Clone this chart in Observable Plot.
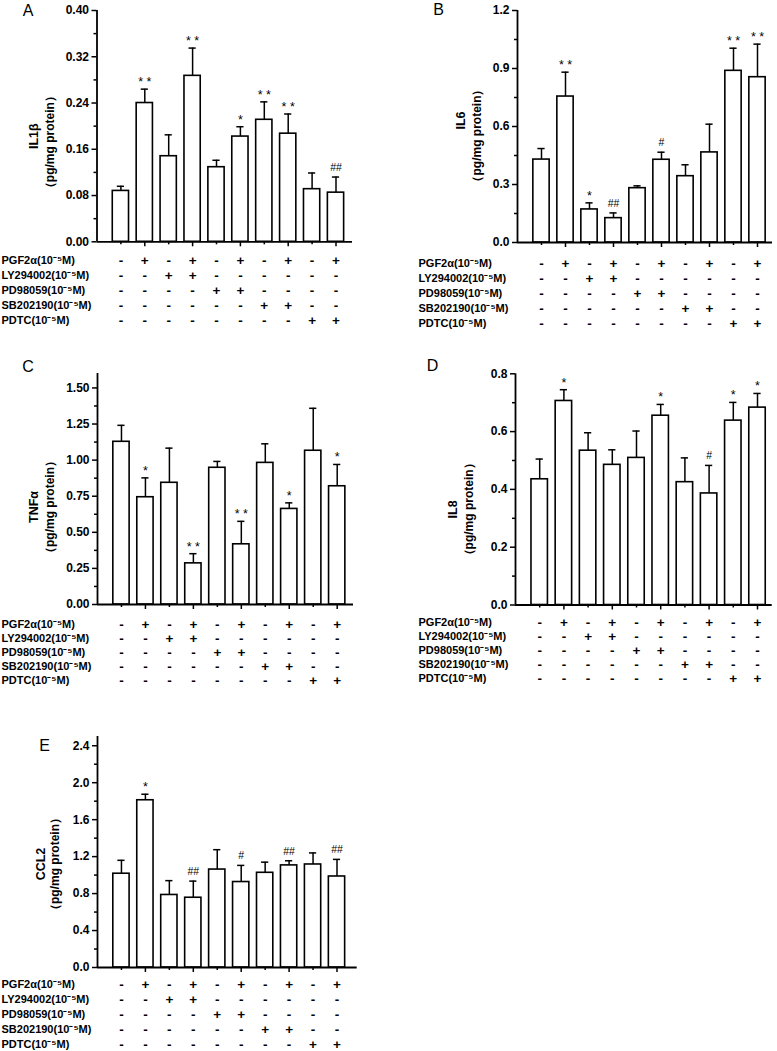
<!DOCTYPE html>
<html><head><meta charset="utf-8">
<script src="https://cdn.jsdelivr.net/npm/d3@7"></script>
<script src="https://cdn.jsdelivr.net/npm/@observablehq/plot@0.6"></script>
<style>
body{margin:0;background:#fff;}
#fig{position:relative;width:777px;height:1051px;overflow:hidden;background:#fff;}
#fig svg{position:absolute;overflow:visible;}
</style></head><body><div id="fig"></div>
<script>
// ---------- data ----------
const treatments = ["PGF2α(10⁻⁵M)", "LY294002(10⁻⁵M)", "PD98059(10⁻⁵M)", "SB202190(10⁻⁵M)", "PDTC(10⁻⁵M)"];
const pgf2a    = ["-","+","-","+","-","+","-","+","-","+"];
const ly294002 = ["-","-","+","+","-","-","-","-","-","-"];
const pd98059  = ["-","-","-","-","+","+","-","-","-","-"];
const sb202190 = ["-","-","-","-","-","-","+","+","-","-"];
const pdtc     = ["-","-","-","-","-","-","-","-","+","+"];

const il1bMean = [0.088, 0.240, 0.148, 0.287, 0.129, 0.182, 0.211, 0.187, 0.091, 0.085];
const il1bErr  = [0.008, 0.024, 0.037, 0.048, 0.012, 0.017, 0.031, 0.034, 0.028, 0.027];
const il1bSig  = ["", "**", "", "**", "", "*", "**", "**", "", "##"];
const il1bTicks = [0, 0.08, 0.16, 0.24, 0.32, 0.40];

const il6Mean = [0.429, 0.755, 0.171, 0.126, 0.281, 0.428, 0.343, 0.466, 0.888, 0.855];
const il6Err  = [0.057, 0.126, 0.034, 0.027, 0.012, 0.039, 0.059, 0.146, 0.117, 0.171];
const il6Sig  = ["", "**", "*", "##", "", "#", "", "", "**", "**"];
const il6Ticks = [0, 0.3, 0.6, 0.9, 1.2];

const tnfMean = [1.127, 0.743, 0.843, 0.285, 0.947, 0.417, 0.981, 0.662, 1.065, 0.819];
const tnfErr  = [0.114, 0.134, 0.240, 0.067, 0.044, 0.159, 0.132, 0.042, 0.294, 0.151];
const tnfSig  = ["", "*", "", "**", "", "**", "", "*", "", "*"];
const tnfTicks = [0, 0.25, 0.50, 0.75, 1.00, 1.25, 1.50];

const il8Mean = [0.435, 0.706, 0.534, 0.485, 0.509, 0.655, 0.425, 0.386, 0.638, 0.683];
const il8Err  = [0.070, 0.039, 0.062, 0.052, 0.093, 0.039, 0.084, 0.097, 0.063, 0.049];
const il8Sig  = ["", "*", "", "", "", "*", "", "#", "*", "*"];
const il8Ticks = [0, 0.2, 0.4, 0.6, 0.8];

const ccl2Mean = [1.015, 1.810, 0.785, 0.755, 1.060, 0.925, 1.025, 1.105, 1.115, 0.985];
const ccl2Err  = [0.145, 0.065, 0.155, 0.180, 0.215, 0.180, 0.115, 0.050, 0.125, 0.185];
const ccl2Sig  = ["", "*", "", "##", "", "#", "", "##", "", "##"];
const ccl2Ticks = [0, 0.4, 0.8, 1.2, 1.6, 2.0, 2.4];

const unitLabel = "（pg/mg protein）";

// ---------- layout (page pixels) ----------
const panels = [
  {letter:"A", title:"IL1β", mean:il1bMean, err:il1bErr, sig:il1bSig, ticks:il1bTicks, ymax:0.40, dec:2,
   fl:96.5, fr:352, ft:10, fb:241.3, c10:335.5, svgL:0, svgT:0, svgW:390, svgH:250,
   tabT:248, tabH:85, row0:259, row4:320, labelX:1,
   letterX:27.5, letterY:10, t1:[33,10], t2:[50,16]},
  {letter:"B", title:"IL6", mean:il6Mean, err:il6Err, sig:il6Sig, ticks:il6Ticks, ymax:1.2, dec:1,
   fl:517, fr:772, ft:10, fb:242, c10:757, svgL:390, svgT:0, svgW:387, svgH:250,
   tabT:248, tabH:85, row0:263, row4:323, labelX:418,
   letterX:438, letterY:9, t1:[460,-6], t2:[477,9]},
  {letter:"C", title:"TNFα", mean:tnfMean, err:tnfErr, sig:tnfSig, ticks:tnfTicks, ymax:1.6, dec:2,
   fl:97, fr:353, ft:373, fb:604, c10:336.7, svgL:0, svgT:355, svgW:390, svgH:255,
   tabT:610, tabH:85, row0:622.7, row4:681, labelX:1,
   letterX:27.5, letterY:366, t1:[33,18], t2:[50,18]},
  {letter:"D", title:"IL8", mean:il8Mean, err:il8Err, sig:il8Sig, ticks:il8Ticks, ymax:0.8, dec:1,
   fl:515, fr:771.7, ft:373.3, fb:604.5, c10:757, svgL:390, svgT:355, svgW:387, svgH:255,
   tabT:610, tabH:85, row0:620.7, row4:679, labelX:418,
   letterX:432, letterY:365, t1:[452,20], t2:[469,20]},
  {letter:"E", title:"CCL2", mean:ccl2Mean, err:ccl2Err, sig:ccl2Sig, ticks:ccl2Ticks, ymax:2.5, dec:1,
   fl:97, fr:356.7, ft:736, fb:967, c10:336.5, svgL:0, svgT:720, svgW:390, svgH:255,
   tabT:972, tabH:79, row0:983, row4:1044, labelX:1,
   letterX:44, letterY:745, t1:[40,12], t2:[55,12]}
];

const table = [pgf2a, ly294002, pd98059, sb202190, pdtc];
const fig = document.getElementById("fig");
const font = "'Liberation Sans', Arial, sans-serif";

for (const p of panels) {
  const xmax = 10 * (p.fr - p.fl) / (p.c10 - p.fl);
  const data = p.mean.map((m, i) => ({i: i + 1, m, e: p.err[i], s: p.sig[i]}));
  const minor = p.ticks.slice(1).map((t, k) => (t + p.ticks[k]) / 2);
  const mL = p.fl - p.svgL, mR = p.svgL + p.svgW - p.fr;
  const bars = Plot.plot({
    width: p.svgW, height: p.svgH,
    marginLeft: mL, marginRight: mR,
    marginTop: p.ft - p.svgT, marginBottom: p.svgT + p.svgH - p.fb,
    x: {domain: [0, xmax], label: null},
    y: {domain: [0, p.ymax], label: null},
    style: {fontFamily: font, fontWeight: "bold", fontSize: "12px", background: "transparent", overflow: "visible"},
    marks: [
      Plot.axisY({ticks: p.ticks, tickSize: 5, tickPadding: 3, strokeWidth: 1.5, label: null,
                  tickFormat: d => d.toFixed(p.dec), fontSize: 12}),
      Plot.axisY({ticks: minor, tickSize: 3, strokeWidth: 1.5, label: null, tickFormat: () => ""}),
      Plot.axisX({ticks: [2, 4, 6, 8, 10], tickSize: 5, strokeWidth: 1.5, label: null, tickFormat: () => ""}),
      Plot.axisX({ticks: [1, 3, 5, 7, 9], tickSize: 3, strokeWidth: 1.5, label: null, tickFormat: () => ""}),
      Plot.rect(data, {x1: d => d.i - 0.34, x2: d => d.i + 0.34, y1: 0, y2: "m",
                       fill: "white", stroke: "black", strokeWidth: 1.6}),
      Plot.ruleX(data, {x: "i", y1: "m", y2: d => d.m + d.e, strokeWidth: 1.5}),
      Plot.ruleY(data, {y: d => d.m + d.e, x1: d => d.i - 0.15, x2: d => d.i + 0.15, strokeWidth: 1.5}),
      Plot.ruleX([0], {strokeWidth: 1.8}),
      Plot.ruleY([0], {strokeWidth: 1.8}),
      Plot.text(data.filter(d => d.s.includes("*")), {x: "i", y: d => d.m + d.e,
        text: d => d.s.split("").join(" "), lineAnchor: "bottom", dy: -3, fontSize: 12.5, fontWeight: "normal"}),
      Plot.text(data.filter(d => d.s.includes("#")), {x: "i", y: d => d.m + d.e,
        text: "s", lineAnchor: "bottom", dy: -6, fontSize: 10.5, fontWeight: "normal"}),
      Plot.text([p.title], {text: d => d, frameAnchor: "left", rotate: -90, textAnchor: "middle", lineAnchor: "middle",
        dx: p.t1[0] - p.fl, dy: p.t1[1], fontSize: 12.5, fontWeight: "bold"}),
      Plot.text([unitLabel], {text: d => d, frameAnchor: "left", rotate: -90, textAnchor: "middle", lineAnchor: "middle",
        dx: p.t2[0] - p.fl, dy: p.t2[1], fontSize: 12, fontWeight: "bold"}),
      Plot.text([p.letter], {text: d => d, frameAnchor: "top-left", textAnchor: "middle", lineAnchor: "middle",
        dx: p.letterX - p.fl, dy: p.letterY - p.ft, fontSize: 16, fontWeight: "normal"})
    ]
  });
  bars.style.left = p.svgL + "px";
  bars.style.top = p.svgT + "px";
  fig.appendChild(bars);

  const cells = table.flatMap((row, r) => row.map((v, i) => ({t: treatments[r], i: i + 1, v})));
  const tab = Plot.plot({
    width: p.svgW, height: p.tabH,
    marginLeft: mL, marginRight: mR,
    marginTop: p.row0 - p.tabT, marginBottom: p.tabT + p.tabH - p.row4,
    x: {domain: [0, xmax], axis: null},
    y: {type: "point", domain: treatments, padding: 0, axis: null},
    style: {fontFamily: font, fontWeight: "bold", background: "transparent", overflow: "visible"},
    marks: [
      Plot.text(cells, {x: "i", y: "t", text: "v", fontSize: 13.5}),
      Plot.text(treatments, {y: d => d, text: d => d, frameAnchor: "left", textAnchor: "start",
        dx: p.labelX - p.fl, fontSize: 11})
    ]
  });
  tab.style.left = p.svgL + "px";
  tab.style.top = p.tabT + "px";
  fig.appendChild(tab);
}
</script></body></html>
